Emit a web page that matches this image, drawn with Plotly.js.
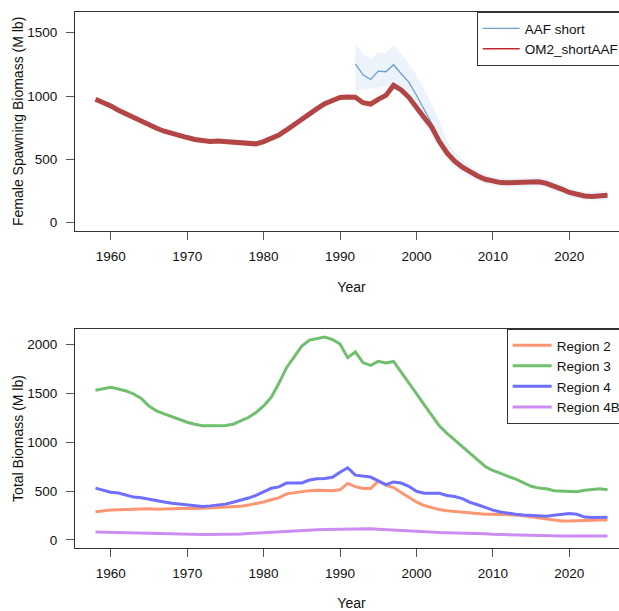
<!DOCTYPE html>
<html>
<head>
<meta charset="utf-8">
<script src="https://cdn.plot.ly/plotly-3.0.1.min.js"></script>
<style>
  html, body { margin: 0; padding: 0; overflow: hidden; background: #fff; }
  #chart { width: 640px; height: 611px; }
</style>
</head>
<body>
<div id="chart"></div>
<script>
// ---------- data ----------
const years = [1958,1959,1960,1961,1962,1963,1964,1965,1966,1967,1968,1969,1970,1971,1972,1973,1974,1975,1976,1977,1978,1979,
  1980,1981,1982,1983,1984,1985,1986,1987,1988,1989,1990,1991,1992,1993,1994,1995,1996,1997,1998,1999,
  2000,2001,2002,2003,2004,2005,2006,2007,2008,2009,2010,2011,2012,2013,2014,2015,2016,2017,2018,2019,
  2020,2021,2022,2023,2024,2025];

const yearsAAF = [1992,1993,1994,1995,1996,1997,1998,1999,2000,2001,2002,2003,2004,2005,2006,2007,2008,2009,
  2010,2011,2012,2013,2014,2015,2016,2017,2018,2019,2020,2021,2022,2023,2024,2025];

// Female spawning biomass (M lb)
const om2ShortAAF = [975,950,922,888,860,825,795,770,745,722,702,690,672,657,647,640,645,640,635,637,628,622,
  640,665,692,732,777,820,862,900,940,968,988,993,990,947,937,974,1005,1084,1048,990,
  905,830,755,640,550,485,437,400,368,342,325,316,314,314,316,320,323,310,290,265,
  238,220,210,207,210,216];

const aafShort = [1255,1168,1131,1197,1192,1247,1176,1110,1006,900,783,655,556,490,440,403,371,345,
  328,319,317,317,319,323,326,313,293,268,241,223,213,210,213,219];

const aafUpper = [1417,1334,1287,1347,1342,1399,1334,1255,1163,1058,940,790,650,560,495,450,412,382,
  362,352,350,350,352,356,360,348,326,300,272,254,244,242,246,254];

const aafLower = [1045,1050,1055,1065,1075,1085,1040,975,880,780,690,590,500,440,395,358,330,305,
  290,282,280,280,282,286,288,275,255,230,205,188,178,174,176,180];

// Total biomass by region (M lb)
const region2 = [289,300,306,309,312,315,316,318,314,314,319,322,318,320,323,326,330,331,334,343,356,371,
  388,410,430,471,482,495,504,508,508,504,512,578,545,527,526,602,560,535,484,433,
  388,352,327,310,298,290,280,272,266,263,262,262,262,255,246,235,224,213,200,194,
  194,194,197,200,203,204];

const region3 = [1531,1546,1561,1544,1524,1493,1446,1370,1320,1289,1262,1228,1204,1184,1167,1167,1170,1170,1184,1214,1252,1303,
  1370,1459,1602,1762,1874,1983,2044,2058,2075,2051,2004,1865,1923,1814,1786,1827,1810,1826,1720,1609,
  1497,1385,1272,1166,1090,1023,950,880,812,751,710,676,650,622,581,548,530,523,503,500,
  493,493,507,517,523,513];

const region4 = [530,508,488,479,462,438,430,418,400,388,374,366,357,348,341,348,354,366,385,403,428,455,
  495,528,542,581,583,583,612,625,628,640,692,738,662,653,643,604,565,593,582,548,
  497,478,476,476,454,444,423,384,360,330,305,285,272,262,255,251,248,243,253,262,
  269,262,233,228,231,231];

const region4B = [80,78,75,72,70,67,65,63,61,60,58,57,56,55,55,55,55,56,58,61,65,70,
  75,80,85,90,95,99,103,105,107,109,111,113,114,114,113,108,103,101,97,92,
  85,81,78,75,74,73,71,68,65,62,58,55,53,52,50,48,46,43,40,39,
  39,39,43,42,41,41];

const xTicks = [1960,1970,1980,1990,2000,2010,2020];
const yTicksTop = [0,500,1000,1500];
const yTicksBottom = [0,500,1000,1500,2000];

// ---------- traces ----------
const FONT = 'Liberation Sans, Arial, sans-serif';
const traces = [
  // CI band for AAF short
  {x: yearsAAF, y: aafLower, type: 'scatter', mode: 'lines', line: {width: 0, color: 'rgba(0,0,0,0)'},
   showlegend: false, hoverinfo: 'skip', xaxis: 'x', yaxis: 'y'},
  {x: yearsAAF, y: aafUpper, type: 'scatter', mode: 'lines', fill: 'tonexty', fillcolor: 'rgba(208,224,243,0.4)',
   line: {width: 0, color: 'rgba(0,0,0,0)'}, showlegend: false, hoverinfo: 'skip', xaxis: 'x', yaxis: 'y'},
  {x: yearsAAF, y: aafShort, type: 'scatter', mode: 'lines', name: 'AAF short',
   line: {color: '#6b9fd0', width: 1.3}, legend: 'legend', xaxis: 'x', yaxis: 'y'},
  {x: years, y: om2ShortAAF, type: 'scatter', mode: 'lines', name: 'OM2_shortAAF',
   line: {color: '#b34545', width: 5}, showlegend: false, xaxis: 'x', yaxis: 'y'},
  // legend-only entry with the thin key line
  {x: [null], y: [null], type: 'scatter', mode: 'lines', name: 'OM2_shortAAF',
   line: {color: '#c0282d', width: 1.5}, legend: 'legend', xaxis: 'x', yaxis: 'y'},

  {x: years, y: region2, type: 'scatter', mode: 'lines', name: 'Region 2',
   line: {color: '#ff9673', width: 3}, legend: 'legend2', xaxis: 'x2', yaxis: 'y2'},
  {x: years, y: region3, type: 'scatter', mode: 'lines', name: 'Region 3',
   line: {color: '#6fbf6f', width: 3}, legend: 'legend2', xaxis: 'x2', yaxis: 'y2'},
  {x: years, y: region4, type: 'scatter', mode: 'lines', name: 'Region 4',
   line: {color: '#6e6eff', width: 3}, legend: 'legend2', xaxis: 'x2', yaxis: 'y2'},
  {x: years, y: region4B, type: 'scatter', mode: 'lines', name: 'Region 4B',
   line: {color: '#cc8cf2', width: 3}, legend: 'legend2', xaxis: 'x2', yaxis: 'y2'}
];

// ---------- layout ----------
function xAxis(anchor) {
  return {
    anchor: anchor, range: [1955.32, 2027.68], tickvals: xTicks, ticks: 'outside', ticklen: 8,
    tickcolor: '#555', tickwidth: 1, showline: true, mirror: true, linecolor: '#333', linewidth: 1,
    showgrid: false, zeroline: false, tickfont: {family: FONT, size: 13.5, color: '#111'},
    ticklabelstandoff: 5,
    title: {text: 'Year', font: {family: FONT, size: 14, color: '#111'}, standoff: 19}
  };
}
function yAxis(anchor, domain, range, ticks, title) {
  return {
    anchor: anchor, domain: domain, range: range, tickvals: ticks, ticks: 'outside', ticklen: 8,
    tickcolor: '#555', tickwidth: 1, showline: true, mirror: true, linecolor: '#333', linewidth: 1,
    showgrid: false, zeroline: false, tickfont: {family: FONT, size: 13.5, color: '#111'},
    ticklabelstandoff: 6,
    title: {text: title, font: {family: FONT, size: 14, color: '#111'}, standoff: 0}
  };
}

function legendStyle(itemW) {
  return {
    xanchor: 'left', yanchor: 'top', bgcolor: '#fff', bordercolor: '#333', borderwidth: 1,
    font: {family: FONT, size: 13.5, color: '#111'}, tracegroupgap: 0, traceorder: 'normal',
    itemwidth: itemW
  };
}

const layout = {
  width: 640, height: 611,
  margin: {l: 75, r: 12, t: 12, b: 63},
  paper_bgcolor: '#fff', plot_bgcolor: '#fff',
  font: {family: FONT, size: 13.5, color: '#111'},
  showlegend: true,
  xaxis: xAxis('y'),
  yaxis: yAxis('x', [0.592, 1], [-64, 1664], yTicksTop, 'Female Spawning Biomass (M lb)'),
  xaxis2: xAxis('y2'),
  yaxis2: yAxis('x2', [0, 0.4086], [-83, 2158], yTicksBottom, 'Total Biomass (M lb)'),
  legend: Object.assign({x: 0.7264, y: 1}, legendStyle(37)),
  legend2: Object.assign({x: 0.7806, y: 0.4086}, legendStyle(39))
};

Plotly.newPlot('chart', traces, layout, {displayModeBar: false, staticPlot: true});
</script>
</body>
</html>
